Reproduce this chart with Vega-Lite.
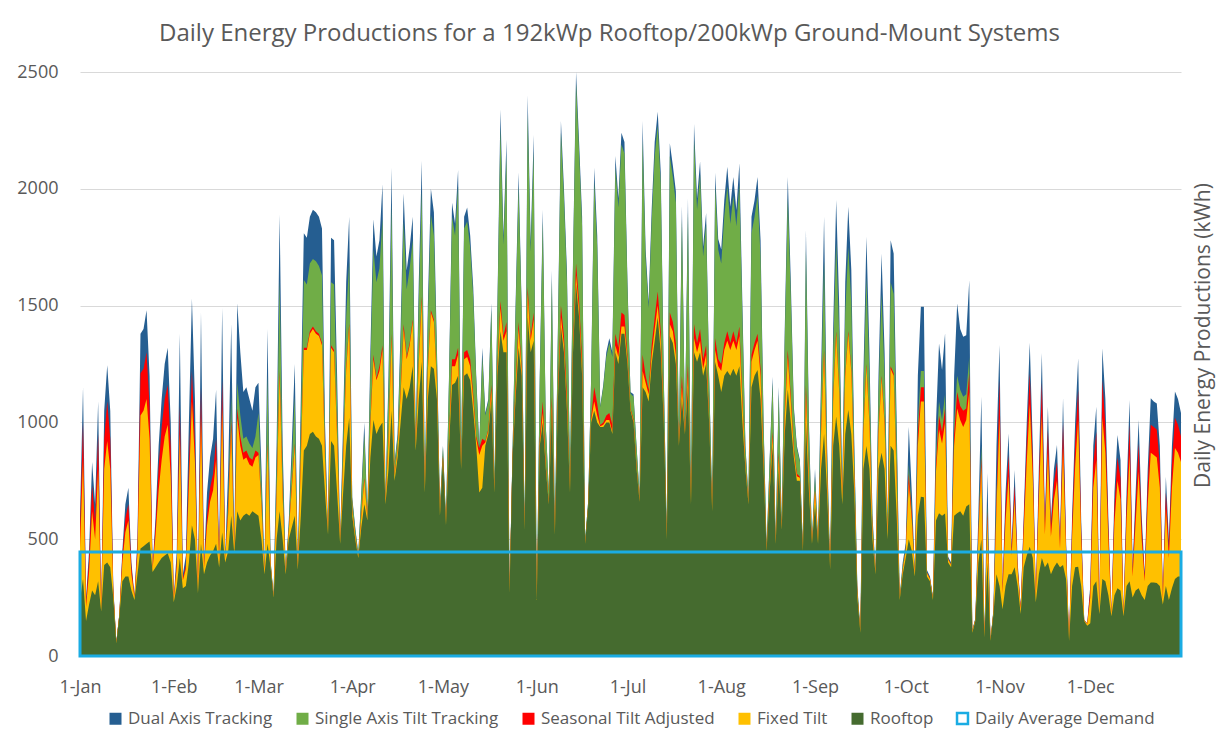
{
"$schema":"https://vega.github.io/schema/vega-lite/v6.json",
"width":1101,"height":584,"autosize":"none",
"padding":{"left":80,"top":72,"right":44,"bottom":78},
"background":"white",
"title":{"text":"Daily Energy Productions for a 192kWp Rooftop/200kWp Ground-Mount Systems","font":"Open Sans","fontSize":24,"fontWeight":"normal","color":"#595959","anchor":"middle","frame":"group","baseline":"alphabetic","offset":10,"dx":-21,"dy":12},
"config":{"view":{"stroke":null},"font":"Open Sans","legend":{"layout":{"bottom":{"anchor":"middle","direction":"horizontal","margin":20}}}},
"data":{"values":[
{"day":"2019-01-01","dual":600,"single":420,"seasonal":540,"fixed":460,"roof":240},
{"day":"2019-01-02","dual":1150,"single":740,"seasonal":1000,"fixed":840,"roof":330},
{"day":"2019-01-03","dual":250,"single":200,"seasonal":230,"fixed":210,"roof":150},
{"day":"2019-01-04","dual":450,"single":340,"seasonal":410,"fixed":360,"roof":220},
{"day":"2019-01-05","dual":830,"single":560,"seasonal":730,"fixed":620,"roof":280},
{"day":"2019-01-06","dual":650,"single":460,"seasonal":580,"fixed":500,"roof":260},
{"day":"2019-01-07","dual":1090,"single":710,"seasonal":950,"fixed":800,"roof":320},
{"day":"2019-01-08","dual":200,"single":195,"seasonal":198,"fixed":196,"roof":190},
{"day":"2019-01-09","dual":1050,"single":720,"seasonal":930,"fixed":800,"roof":390},
{"day":"2019-01-10","dual":1245,"single":820,"seasonal":1090,"fixed":920,"roof":400},
{"day":"2019-01-11","dual":1050,"single":720,"seasonal":930,"fixed":800,"roof":380},
{"day":"2019-01-12","dual":300,"single":280,"seasonal":290,"fixed":280,"roof":250},
{"day":"2019-01-13","dual":60,"single":57,"seasonal":59,"fixed":58,"roof":55},
{"day":"2019-01-14","dual":180,"single":175,"seasonal":178,"fixed":176,"roof":170},
{"day":"2019-01-15","dual":450,"single":390,"seasonal":430,"fixed":400,"roof":320},
{"day":"2019-01-16","dual":650,"single":500,"seasonal":590,"fixed":530,"roof":340},
{"day":"2019-01-17","dual":720,"single":530,"seasonal":650,"fixed":580,"roof":340},
{"day":"2019-01-18","dual":400,"single":340,"seasonal":380,"fixed":350,"roof":280},
{"day":"2019-01-19","dual":260,"single":250,"seasonal":256,"fixed":252,"roof":240},
{"day":"2019-01-20","dual":500,"single":430,"seasonal":470,"fixed":440,"roof":350},
{"day":"2019-01-21","dual":1380,"single":920,"seasonal":1210,"fixed":1030,"roof":460},
{"day":"2019-01-22","dual":1400,"single":940,"seasonal":1230,"fixed":1050,"roof":470},
{"day":"2019-01-23","dual":1480,"single":980,"seasonal":1300,"fixed":1100,"roof":480},
{"day":"2019-01-24","dual":1200,"single":850,"seasonal":1070,"fixed":930,"roof":490},
{"day":"2019-01-25","dual":380,"single":370,"seasonal":376,"fixed":372,"roof":360},
{"day":"2019-01-26","dual":600,"single":490,"seasonal":560,"fixed":520,"roof":380},
{"day":"2019-01-27","dual":900,"single":650,"seasonal":810,"fixed":710,"roof":400},
{"day":"2019-01-28","dual":1100,"single":760,"seasonal":980,"fixed":840,"roof":420},
{"day":"2019-01-29","dual":1250,"single":840,"seasonal":1100,"fixed":940,"roof":430},
{"day":"2019-01-30","dual":1320,"single":880,"seasonal":1160,"fixed":990,"roof":440},
{"day":"2019-01-31","dual":1000,"single":700,"seasonal":890,"fixed":770,"roof":400},
{"day":"2019-02-01","dual":250,"single":240,"seasonal":244,"fixed":241,"roof":230},
{"day":"2019-02-02","dual":450,"single":375,"seasonal":402,"fixed":383,"roof":300},
{"day":"2019-02-03","dual":1380,"single":900,"seasonal":1070,"fixed":950,"roof":420},
{"day":"2019-02-04","dual":350,"single":320,"seasonal":331,"fixed":323,"roof":290},
{"day":"2019-02-05","dual":430,"single":365,"seasonal":388,"fixed":372,"roof":300},
{"day":"2019-02-06","dual":1000,"single":700,"seasonal":810,"fixed":730,"roof":400},
{"day":"2019-02-07","dual":1530,"single":1050,"seasonal":1220,"fixed":1090,"roof":560},
{"day":"2019-02-08","dual":1100,"single":800,"seasonal":910,"fixed":830,"roof":500},
{"day":"2019-02-09","dual":280,"single":275,"seasonal":277,"fixed":275,"roof":270},
{"day":"2019-02-10","dual":1470,"single":980,"seasonal":1150,"fixed":1020,"roof":480},
{"day":"2019-02-11","dual":400,"single":375,"seasonal":384,"fixed":378,"roof":350},
{"day":"2019-02-12","dual":700,"single":550,"seasonal":600,"fixed":560,"roof":400},
{"day":"2019-02-13","dual":850,"single":640,"seasonal":720,"fixed":660,"roof":430},
{"day":"2019-02-14","dual":930,"single":690,"seasonal":780,"fixed":710,"roof":450},
{"day":"2019-02-15","dual":1140,"single":810,"seasonal":930,"fixed":840,"roof":480},
{"day":"2019-02-16","dual":420,"single":400,"seasonal":407,"fixed":402,"roof":380},
{"day":"2019-02-17","dual":1490,"single":1010,"seasonal":1180,"fixed":1060,"roof":530},
{"day":"2019-02-18","dual":430,"single":415,"seasonal":420,"fixed":416,"roof":400},
{"day":"2019-02-19","dual":800,"single":670,"seasonal":630,"fixed":610,"roof":450},
{"day":"2019-02-20","dual":1420,"single":1110,"seasonal":1010,"fixed":970,"roof":600},
{"day":"2019-02-21","dual":470,"single":460,"seasonal":455,"fixed":454,"roof":440},
{"day":"2019-02-22","dual":1510,"single":1170,"seasonal":1060,"fixed":1020,"roof":620},
{"day":"2019-02-23","dual":1300,"single":1030,"seasonal":940,"fixed":900,"roof":580},
{"day":"2019-02-24","dual":1130,"single":930,"seasonal":870,"fixed":840,"roof":600},
{"day":"2019-02-25","dual":1150,"single":940,"seasonal":880,"fixed":850,"roof":610},
{"day":"2019-02-26","dual":1100,"single":910,"seasonal":850,"fixed":820,"roof":600},
{"day":"2019-02-27","dual":1050,"single":890,"seasonal":840,"fixed":810,"roof":620},
{"day":"2019-02-28","dual":1150,"single":940,"seasonal":880,"fixed":850,"roof":610},
{"day":"2019-03-01","dual":1170,"single":1040,"seasonal":870,"fixed":860,"roof":600},
{"day":"2019-03-02","dual":800,"single":730,"seasonal":641,"fixed":638,"roof":500},
{"day":"2019-03-03","dual":380,"single":373,"seasonal":365,"fixed":364,"roof":350},
{"day":"2019-03-04","dual":1400,"single":1200,"seasonal":910,"fixed":900,"roof":480},
{"day":"2019-03-05","dual":410,"single":403,"seasonal":394,"fixed":394,"roof":380},
{"day":"2019-03-06","dual":260,"single":258,"seasonal":255,"fixed":255,"roof":250},
{"day":"2019-03-07","dual":900,"single":810,"seasonal":690,"fixed":680,"roof":500},
{"day":"2019-03-08","dual":1890,"single":1610,"seasonal":1220,"fixed":1200,"roof":620},
{"day":"2019-03-09","dual":900,"single":810,"seasonal":690,"fixed":680,"roof":500},
{"day":"2019-03-10","dual":370,"single":366,"seasonal":360,"fixed":359,"roof":350},
{"day":"2019-03-11","dual":570,"single":555,"seasonal":533,"fixed":532,"roof":500},
{"day":"2019-03-12","dual":900,"single":820,"seasonal":720,"fixed":710,"roof":550},
{"day":"2019-03-13","dual":1250,"single":1110,"seasonal":910,"fixed":900,"roof":600},
{"day":"2019-03-14","dual":380,"single":378,"seasonal":375,"fixed":375,"roof":370},
{"day":"2019-03-15","dual":1100,"single":990,"seasonal":840,"fixed":830,"roof":600},
{"day":"2019-03-16","dual":1810,"single":1610,"seasonal":1320,"fixed":1310,"roof":880},
{"day":"2019-03-17","dual":1790,"single":1590,"seasonal":1320,"fixed":1310,"roof":900},
{"day":"2019-03-18","dual":1880,"single":1680,"seasonal":1390,"fixed":1380,"roof":950},
{"day":"2019-03-19","dual":1910,"single":1700,"seasonal":1410,"fixed":1400,"roof":960},
{"day":"2019-03-20","dual":1900,"single":1690,"seasonal":1390,"fixed":1380,"roof":940},
{"day":"2019-03-21","dual":1880,"single":1670,"seasonal":1380,"fixed":1370,"roof":930},
{"day":"2019-03-22","dual":1830,"single":1630,"seasonal":1340,"fixed":1330,"roof":900},
{"day":"2019-03-23","dual":1000,"single":930,"seasonal":841,"fixed":838,"roof":700},
{"day":"2019-03-24","dual":540,"single":536,"seasonal":529,"fixed":529,"roof":520},
{"day":"2019-03-25","dual":1790,"single":1600,"seasonal":1330,"fixed":1320,"roof":920},
{"day":"2019-03-26","dual":1780,"single":1590,"seasonal":1310,"fixed":1300,"roof":900},
{"day":"2019-03-27","dual":1200,"single":1090,"seasonal":940,"fixed":930,"roof":700},
{"day":"2019-03-28","dual":500,"single":496,"seasonal":490,"fixed":489,"roof":480},
{"day":"2019-03-29","dual":1000,"single":930,"seasonal":841,"fixed":838,"roof":700},
{"day":"2019-03-30","dual":1600,"single":1450,"seasonal":1230,"fixed":1220,"roof":900},
{"day":"2019-03-31","dual":1880,"single":1690,"seasonal":1424,"fixed":1416,"roof":1020},
{"day":"2019-04-01","dual":680,"single":670,"seasonal":626,"fixed":624,"roof":600},
{"day":"2019-04-02","dual":550,"single":543,"seasonal":516,"fixed":515,"roof":500},
{"day":"2019-04-03","dual":440,"single":437,"seasonal":426,"fixed":426,"roof":420},
{"day":"2019-04-04","dual":700,"single":678,"seasonal":598,"fixed":595,"roof":550},
{"day":"2019-04-05","dual":1000,"single":950,"seasonal":762,"fixed":755,"roof":650},
{"day":"2019-04-06","dual":610,"single":606,"seasonal":590,"fixed":589,"roof":580},
{"day":"2019-04-07","dual":1300,"single":1230,"seasonal":994,"fixed":985,"roof":850},
{"day":"2019-04-08","dual":1870,"single":1740,"seasonal":1290,"fixed":1270,"roof":1010},
{"day":"2019-04-09","dual":1710,"single":1600,"seasonal":1190,"fixed":1180,"roof":950},
{"day":"2019-04-10","dual":1780,"single":1660,"seasonal":1240,"fixed":1220,"roof":980},
{"day":"2019-04-11","dual":2020,"single":1870,"seasonal":1330,"fixed":1310,"roof":1000},
{"day":"2019-04-12","dual":680,"single":676,"seasonal":660,"fixed":659,"roof":650},
{"day":"2019-04-13","dual":1200,"single":1140,"seasonal":930,"fixed":920,"roof":800},
{"day":"2019-04-14","dual":2090,"single":1930,"seasonal":1380,"fixed":1360,"roof":1050},
{"day":"2019-04-15","dual":830,"single":820,"seasonal":776,"fixed":774,"roof":750},
{"day":"2019-04-16","dual":950,"single":935,"seasonal":882,"fixed":880,"roof":850},
{"day":"2019-04-17","dual":1400,"single":1340,"seasonal":1130,"fixed":1120,"roof":1000},
{"day":"2019-04-18","dual":1980,"single":1860,"seasonal":1420,"fixed":1400,"roof":1150},
{"day":"2019-04-19","dual":1650,"single":1570,"seasonal":1280,"fixed":1270,"roof":1100},
{"day":"2019-04-20","dual":1750,"single":1660,"seasonal":1340,"fixed":1330,"roof":1150},
{"day":"2019-04-21","dual":1880,"single":1780,"seasonal":1440,"fixed":1430,"roof":1240},
{"day":"2019-04-22","dual":940,"single":931,"seasonal":899,"fixed":898,"roof":880},
{"day":"2019-04-23","dual":1600,"single":1520,"seasonal":1260,"fixed":1250,"roof":1100},
{"day":"2019-04-24","dual":2120,"single":1990,"seasonal":1540,"fixed":1520,"roof":1260},
{"day":"2019-04-25","dual":740,"single":734,"seasonal":713,"fixed":712,"roof":700},
{"day":"2019-04-26","dual":1500,"single":1440,"seasonal":1230,"fixed":1220,"roof":1100},
{"day":"2019-04-27","dual":2000,"single":1890,"seasonal":1480,"fixed":1470,"roof":1240},
{"day":"2019-04-28","dual":1900,"single":1800,"seasonal":1440,"fixed":1430,"roof":1230},
{"day":"2019-04-29","dual":1320,"single":1290,"seasonal":1170,"fixed":1166,"roof":1100},
{"day":"2019-04-30","dual":640,"single":634,"seasonal":613,"fixed":612,"roof":600},
{"day":"2019-05-01","dual":900,"single":896,"seasonal":857,"fixed":855,"roof":850},
{"day":"2019-05-02","dual":590,"single":588,"seasonal":564,"fixed":563,"roof":560},
{"day":"2019-05-03","dual":1200,"single":1180,"seasonal":940,"fixed":930,"roof":900},
{"day":"2019-05-04","dual":1940,"single":1880,"seasonal":1270,"fixed":1240,"roof":1160},
{"day":"2019-05-05","dual":1850,"single":1800,"seasonal":1270,"fixed":1240,"roof":1170},
{"day":"2019-05-06","dual":2080,"single":2010,"seasonal":1320,"fixed":1290,"roof":1200},
{"day":"2019-05-07","dual":850,"single":846,"seasonal":807,"fixed":805,"roof":800},
{"day":"2019-05-08","dual":1880,"single":1830,"seasonal":1300,"fixed":1270,"roof":1200},
{"day":"2019-05-09","dual":1920,"single":1860,"seasonal":1310,"fixed":1280,"roof":1210},
{"day":"2019-05-10","dual":1800,"single":1750,"seasonal":1270,"fixed":1240,"roof":1180},
{"day":"2019-05-11","dual":1580,"single":1540,"seasonal":1120,"fixed":1100,"roof":1050},
{"day":"2019-05-12","dual":1200,"single":1180,"seasonal":940,"fixed":930,"roof":900},
{"day":"2019-05-13","dual":900,"single":880,"seasonal":890,"fixed":860,"roof":700},
{"day":"2019-05-14","dual":1320,"single":1280,"seasonal":930,"fixed":900,"roof":720},
{"day":"2019-05-15","dual":1040,"single":1030,"seasonal":920,"fixed":914,"roof":900},
{"day":"2019-05-16","dual":1100,"single":1090,"seasonal":971,"fixed":965,"roof":950},
{"day":"2019-05-17","dual":1510,"single":1480,"seasonal":1160,"fixed":1140,"roof":1100},
{"day":"2019-05-18","dual":750,"single":746,"seasonal":707,"fixed":705,"roof":700},
{"day":"2019-05-19","dual":1500,"single":1480,"seasonal":1240,"fixed":1230,"roof":1200},
{"day":"2019-05-20","dual":2340,"single":2260,"seasonal":1520,"fixed":1490,"roof":1390},
{"day":"2019-05-21","dual":1800,"single":1760,"seasonal":1370,"fixed":1350,"roof":1300},
{"day":"2019-05-22","dual":2210,"single":2140,"seasonal":1430,"fixed":1390,"roof":1300},
{"day":"2019-05-23","dual":278,"single":277,"seasonal":273,"fixed":272,"roof":270},
{"day":"2019-05-24","dual":880,"single":878,"seasonal":854,"fixed":853,"roof":850},
{"day":"2019-05-25","dual":1500,"single":1470,"seasonal":1160,"fixed":1140,"roof":1100},
{"day":"2019-05-26","dual":2070,"single":2010,"seasonal":1430,"fixed":1400,"roof":1320},
{"day":"2019-05-27","dual":1500,"single":1480,"seasonal":1240,"fixed":1230,"roof":1200},
{"day":"2019-05-28","dual":565,"single":563,"seasonal":544,"fixed":543,"roof":540},
{"day":"2019-05-29","dual":2400,"single":2320,"seasonal":1580,"fixed":1550,"roof":1450},
{"day":"2019-05-30","dual":1770,"single":1730,"seasonal":1370,"fixed":1350,"roof":1300},
{"day":"2019-05-31","dual":2230,"single":2160,"seasonal":1470,"fixed":1440,"roof":1350},
{"day":"2019-06-01","dual":250,"single":249,"seasonal":241,"fixed":241,"roof":240},
{"day":"2019-06-02","dual":1200,"single":1180,"seasonal":930,"fixed":910,"roof":900},
{"day":"2019-06-03","dual":1910,"single":1860,"seasonal":1090,"fixed":1040,"roof":1000},
{"day":"2019-06-04","dual":987,"single":980,"seasonal":820,"fixed":810,"roof":800},
{"day":"2019-06-05","dual":710,"single":706,"seasonal":656,"fixed":652,"roof":650},
{"day":"2019-06-06","dual":1650,"single":1610,"seasonal":1110,"fixed":1070,"roof":1050},
{"day":"2019-06-07","dual":549,"single":547,"seasonal":523,"fixed":521,"roof":520},
{"day":"2019-06-08","dual":1400,"single":1380,"seasonal":1130,"fixed":1110,"roof":1100},
{"day":"2019-06-09","dual":2290,"single":2240,"seasonal":1500,"fixed":1450,"roof":1410},
{"day":"2019-06-10","dual":2000,"single":1960,"seasonal":1370,"fixed":1330,"roof":1300},
{"day":"2019-06-11","dual":1640,"single":1600,"seasonal":1110,"fixed":1070,"roof":1050},
{"day":"2019-06-12","dual":790,"single":785,"seasonal":709,"fixed":704,"roof":700},
{"day":"2019-06-13","dual":1700,"single":1680,"seasonal":1340,"fixed":1320,"roof":1300},
{"day":"2019-06-14","dual":2500,"single":2450,"seasonal":1680,"fixed":1630,"roof":1590},
{"day":"2019-06-15","dual":2200,"single":2160,"seasonal":1520,"fixed":1480,"roof":1450},
{"day":"2019-06-16","dual":1880,"single":1840,"seasonal":1270,"fixed":1230,"roof":1200},
{"day":"2019-06-17","dual":500,"single":499,"seasonal":482,"fixed":481,"roof":480},
{"day":"2019-06-18","dual":660,"single":659,"seasonal":642,"fixed":641,"roof":640},
{"day":"2019-06-19","dual":1200,"single":1190,"seasonal":1020,"fixed":1010,"roof":1000},
{"day":"2019-06-20","dual":2090,"single":2030,"seasonal":1150,"fixed":1090,"roof":1050},
{"day":"2019-06-21","dual":1800,"single":1750,"seasonal":1080,"fixed":1030,"roof":1000},
{"day":"2019-06-22","dual":1070,"single":1065,"seasonal":989,"fixed":984,"roof":980},
{"day":"2019-06-23","dual":1160,"single":1150,"seasonal":1000,"fixed":990,"roof":980},
{"day":"2019-06-24","dual":1300,"single":1280,"seasonal":1030,"fixed":1010,"roof":1000},
{"day":"2019-06-25","dual":1360,"single":1340,"seasonal":1040,"fixed":1010,"roof":1000},
{"day":"2019-06-26","dual":1300,"single":1280,"seasonal":990,"fixed":960,"roof":950},
{"day":"2019-06-27","dual":2140,"single":2090,"seasonal":1380,"fixed":1330,"roof":1300},
{"day":"2019-06-28","dual":1960,"single":1920,"seasonal":1320,"fixed":1280,"roof":1250},
{"day":"2019-06-29","dual":2240,"single":2190,"seasonal":1470,"fixed":1410,"roof":1380},
{"day":"2019-06-30","dual":2200,"single":2150,"seasonal":1460,"fixed":1410,"roof":1380},
{"day":"2019-07-01","dual":1600,"single":1580,"seasonal":1290,"fixed":1270,"roof":1250},
{"day":"2019-07-02","dual":1130,"single":1124,"seasonal":1060,"fixed":1055,"roof":1050},
{"day":"2019-07-03","dual":1120,"single":1110,"seasonal":1014,"fixed":1007,"roof":1000},
{"day":"2019-07-04","dual":900,"single":893,"seasonal":812,"fixed":806,"roof":800},
{"day":"2019-07-05","dual":690,"single":688,"seasonal":664,"fixed":662,"roof":660},
{"day":"2019-07-06","dual":2290,"single":2210,"seasonal":1290,"fixed":1220,"roof":1150},
{"day":"2019-07-07","dual":1740,"single":1700,"seasonal":1200,"fixed":1170,"roof":1130},
{"day":"2019-07-08","dual":1515,"single":1490,"seasonal":1140,"fixed":1120,"roof":1090},
{"day":"2019-07-09","dual":1910,"single":1860,"seasonal":1330,"fixed":1290,"roof":1250},
{"day":"2019-07-10","dual":2200,"single":2140,"seasonal":1450,"fixed":1400,"roof":1350},
{"day":"2019-07-11","dual":2330,"single":2270,"seasonal":1560,"fixed":1500,"roof":1450},
{"day":"2019-07-12","dual":2070,"single":2020,"seasonal":1390,"fixed":1350,"roof":1300},
{"day":"2019-07-13","dual":1200,"single":1190,"seasonal":1020,"fixed":1010,"roof":1000},
{"day":"2019-07-14","dual":530,"single":528,"seasonal":504,"fixed":502,"roof":500},
{"day":"2019-07-15","dual":2195,"single":2140,"seasonal":1470,"fixed":1420,"roof":1370},
{"day":"2019-07-16","dual":2100,"single":2050,"seasonal":1430,"fixed":1390,"roof":1340},
{"day":"2019-07-17","dual":1990,"single":1940,"seasonal":1340,"fixed":1290,"roof":1250},
{"day":"2019-07-18","dual":929,"single":927,"seasonal":903,"fixed":902,"roof":900},
{"day":"2019-07-19","dual":1926,"single":1870,"seasonal":1200,"fixed":1150,"roof":1100},
{"day":"2019-07-20","dual":993,"single":990,"seasonal":955,"fixed":953,"roof":950},
{"day":"2019-07-21","dual":1958,"single":1900,"seasonal":1250,"fixed":1200,"roof":1150},
{"day":"2019-07-22","dual":674,"single":672,"seasonal":653,"fixed":651,"roof":650},
{"day":"2019-07-23","dual":2277,"single":2210,"seasonal":1420,"fixed":1360,"roof":1300},
{"day":"2019-07-24","dual":1958,"single":1910,"seasonal":1340,"fixed":1300,"roof":1260},
{"day":"2019-07-25","dual":2117,"single":2060,"seasonal":1400,"fixed":1350,"roof":1300},
{"day":"2019-07-26","dual":1752,"single":1710,"seasonal":1270,"fixed":1230,"roof":1200},
{"day":"2019-07-27","dual":1896,"single":1850,"seasonal":1330,"fixed":1290,"roof":1250},
{"day":"2019-07-28","dual":1200,"single":1190,"seasonal":1020,"fixed":1010,"roof":1000},
{"day":"2019-07-29","dual":659,"single":656,"seasonal":625,"fixed":622,"roof":620},
{"day":"2019-07-30","dual":2069,"single":2010,"seasonal":1360,"fixed":1310,"roof":1260},
{"day":"2019-07-31","dual":1785,"single":1740,"seasonal":1270,"fixed":1240,"roof":1200},
{"day":"2019-08-01","dual":1740,"single":1680,"seasonal":1250,"fixed":1220,"roof":1130},
{"day":"2019-08-02","dual":1950,"single":1880,"seasonal":1340,"fixed":1310,"roof":1200},
{"day":"2019-08-03","dual":2094,"single":2010,"seasonal":1390,"fixed":1350,"roof":1220},
{"day":"2019-08-04","dual":1923,"single":1850,"seasonal":1340,"fixed":1310,"roof":1200},
{"day":"2019-08-05","dual":2051,"single":1970,"seasonal":1390,"fixed":1350,"roof":1230},
{"day":"2019-08-06","dual":1909,"single":1840,"seasonal":1340,"fixed":1310,"roof":1200},
{"day":"2019-08-07","dual":2109,"single":2020,"seasonal":1410,"fixed":1370,"roof":1240},
{"day":"2019-08-08","dual":1500,"single":1450,"seasonal":1100,"fixed":1080,"roof":1000},
{"day":"2019-08-09","dual":900,"single":890,"seasonal":819,"fixed":815,"roof":800},
{"day":"2019-08-10","dual":682,"single":679,"seasonal":656,"fixed":655,"roof":650},
{"day":"2019-08-11","dual":1880,"single":1810,"seasonal":1290,"fixed":1260,"roof":1150},
{"day":"2019-08-12","dual":1950,"single":1880,"seasonal":1340,"fixed":1310,"roof":1200},
{"day":"2019-08-13","dual":2051,"single":1970,"seasonal":1380,"fixed":1350,"roof":1224},
{"day":"2019-08-14","dual":1780,"single":1710,"seasonal":1230,"fixed":1200,"roof":1100},
{"day":"2019-08-15","dual":1000,"single":980,"seasonal":840,"fixed":830,"roof":800},
{"day":"2019-08-16","dual":470,"single":468,"seasonal":454,"fixed":453,"roof":450},
{"day":"2019-08-17","dual":843,"single":830,"seasonal":730,"fixed":720,"roof":700},
{"day":"2019-08-18","dual":1195,"single":1170,"seasonal":960,"fixed":940,"roof":900},
{"day":"2019-08-19","dual":497,"single":495,"seasonal":484,"fixed":483,"roof":480},
{"day":"2019-08-20","dual":1152,"single":1120,"seasonal":870,"fixed":850,"roof":800},
{"day":"2019-08-21","dual":569,"single":566,"seasonal":546,"fixed":544,"roof":540},
{"day":"2019-08-22","dual":1400,"single":1360,"seasonal":1040,"fixed":1020,"roof":950},
{"day":"2019-08-23","dual":2051,"single":1960,"seasonal":1310,"fixed":1280,"roof":1141},
{"day":"2019-08-24","dual":1600,"single":1540,"seasonal":1110,"fixed":1090,"roof":1000},
{"day":"2019-08-25","dual":1067,"single":1050,"seasonal":890,"fixed":880,"roof":850},
{"day":"2019-08-26","dual":900,"single":890,"seasonal":780,"fixed":770,"roof":750},
{"day":"2019-08-27","dual":839,"single":830,"seasonal":767,"fixed":763,"roof":750},
{"day":"2019-08-28","dual":468,"single":466,"seasonal":454,"fixed":453,"roof":450},
{"day":"2019-08-29","dual":1823,"single":1740,"seasonal":1160,"fixed":1120,"roof":1000},
{"day":"2019-08-30","dual":1000,"single":970,"seasonal":760,"fixed":750,"roof":700},
{"day":"2019-08-31","dual":497,"single":495,"seasonal":484,"fixed":483,"roof":480},
{"day":"2019-09-01","dual":800,"single":770,"seasonal":709,"fixed":707,"roof":650},
{"day":"2019-09-02","dual":500,"single":496,"seasonal":488,"fixed":488,"roof":480},
{"day":"2019-09-03","dual":1200,"single":1120,"seasonal":960,"fixed":950,"roof":800},
{"day":"2019-09-04","dual":1880,"single":1690,"seasonal":1310,"fixed":1300,"roof":950},
{"day":"2019-09-05","dual":900,"single":860,"seasonal":780,"fixed":776,"roof":700},
{"day":"2019-09-06","dual":382,"single":380,"seasonal":375,"fixed":375,"roof":370},
{"day":"2019-09-07","dual":1400,"single":1300,"seasonal":1100,"fixed":1090,"roof":900},
{"day":"2019-09-08","dual":1952,"single":1770,"seasonal":1390,"fixed":1380,"roof":1025},
{"day":"2019-09-09","dual":1500,"single":1380,"seasonal":1134,"fixed":1128,"roof":900},
{"day":"2019-09-10","dual":725,"single":710,"seasonal":680,"fixed":679,"roof":650},
{"day":"2019-09-11","dual":1600,"single":1470,"seasonal":1204,"fixed":1197,"roof":950},
{"day":"2019-09-12","dual":1923,"single":1750,"seasonal":1390,"fixed":1380,"roof":1053},
{"day":"2019-09-13","dual":1652,"single":1510,"seasonal":1224,"fixed":1217,"roof":950},
{"day":"2019-09-14","dual":900,"single":860,"seasonal":780,"fixed":776,"roof":700},
{"day":"2019-09-15","dual":300,"single":290,"seasonal":270,"fixed":269,"roof":250},
{"day":"2019-09-16","dual":111,"single":109,"seasonal":104,"fixed":104,"roof":100},
{"day":"2019-09-17","dual":1200,"single":1120,"seasonal":960,"fixed":950,"roof":800},
{"day":"2019-09-18","dual":1795,"single":1620,"seasonal":1250,"fixed":1240,"roof":899},
{"day":"2019-09-19","dual":1300,"single":1200,"seasonal":1000,"fixed":990,"roof":800},
{"day":"2019-09-20","dual":600,"single":580,"seasonal":540,"fixed":538,"roof":500},
{"day":"2019-09-21","dual":368,"single":364,"seasonal":357,"fixed":357,"roof":350},
{"day":"2019-09-22","dual":1200,"single":1120,"seasonal":960,"fixed":950,"roof":800},
{"day":"2019-09-23","dual":1723,"single":1550,"seasonal":1200,"fixed":1190,"roof":870},
{"day":"2019-09-24","dual":1300,"single":1200,"seasonal":1000,"fixed":990,"roof":800},
{"day":"2019-09-25","dual":569,"single":555,"seasonal":527,"fixed":526,"roof":500},
{"day":"2019-09-26","dual":1780,"single":1600,"seasonal":1240,"fixed":1230,"roof":900},
{"day":"2019-09-27","dual":1723,"single":1550,"seasonal":1210,"fixed":1200,"roof":880},
{"day":"2019-09-28","dual":1000,"single":920,"seasonal":756,"fixed":752,"roof":600},
{"day":"2019-09-29","dual":254,"single":251,"seasonal":245,"fixed":245,"roof":240},
{"day":"2019-09-30","dual":400,"single":390,"seasonal":370,"fixed":369,"roof":350},
{"day":"2019-10-01","dual":484,"single":462,"seasonal":457,"fixed":452,"roof":420},
{"day":"2019-10-02","dual":981,"single":820,"seasonal":780,"fixed":740,"roof":500},
{"day":"2019-10-03","dual":700,"single":620,"seasonal":600,"fixed":580,"roof":450},
{"day":"2019-10-04","dual":368,"single":358,"seasonal":356,"fixed":354,"roof":340},
{"day":"2019-10-05","dual":1200,"single":1000,"seasonal":950,"fixed":900,"roof":600},
{"day":"2019-10-06","dual":1495,"single":1220,"seasonal":1150,"fixed":1090,"roof":682},
{"day":"2019-10-07","dual":1495,"single":1220,"seasonal":1150,"fixed":1090,"roof":680},
{"day":"2019-10-08","dual":368,"single":358,"seasonal":356,"fixed":354,"roof":340},
{"day":"2019-10-09","dual":340,"single":333,"seasonal":332,"fixed":330,"roof":320},
{"day":"2019-10-10","dual":255,"single":250,"seasonal":249,"fixed":248,"roof":240},
{"day":"2019-10-11","dual":1000,"single":860,"seasonal":820,"fixed":790,"roof":580},
{"day":"2019-10-12","dual":1338,"single":1090,"seasonal":1030,"fixed":970,"roof":611},
{"day":"2019-10-13","dual":1224,"single":1010,"seasonal":960,"fixed":910,"roof":600},
{"day":"2019-10-14","dual":1382,"single":1120,"seasonal":1060,"fixed":1000,"roof":610},
{"day":"2019-10-15","dual":425,"single":417,"seasonal":415,"fixed":413,"roof":400},
{"day":"2019-10-16","dual":400,"single":393,"seasonal":392,"fixed":390,"roof":380},
{"day":"2019-10-17","dual":1200,"single":1000,"seasonal":950,"fixed":900,"roof":600},
{"day":"2019-10-18","dual":1509,"single":1200,"seasonal":1130,"fixed":1060,"roof":611},
{"day":"2019-10-19","dual":1400,"single":1140,"seasonal":1070,"fixed":1010,"roof":620},
{"day":"2019-10-20","dual":1367,"single":1110,"seasonal":1050,"fixed":980,"roof":600},
{"day":"2019-10-21","dual":1373,"single":1120,"seasonal":1060,"fixed":1010,"roof":640},
{"day":"2019-10-22","dual":1609,"single":1280,"seasonal":1210,"fixed":1130,"roof":650},
{"day":"2019-10-23","dual":111,"single":107,"seasonal":106,"fixed":106,"roof":100},
{"day":"2019-10-24","dual":160,"single":157,"seasonal":156,"fixed":155,"roof":150},
{"day":"2019-10-25","dual":600,"single":530,"seasonal":520,"fixed":500,"roof":400},
{"day":"2019-10-26","dual":1110,"single":900,"seasonal":850,"fixed":810,"roof":500},
{"day":"2019-10-27","dual":83,"single":82,"seasonal":82,"fixed":82,"roof":80},
{"day":"2019-10-28","dual":783,"single":650,"seasonal":620,"fixed":590,"roof":400},
{"day":"2019-10-29","dual":68,"single":67,"seasonal":67,"fixed":67,"roof":65},
{"day":"2019-10-30","dual":200,"single":193,"seasonal":192,"fixed":190,"roof":180},
{"day":"2019-10-31","dual":900,"single":710,"seasonal":670,"fixed":630,"roof":350},
{"day":"2019-11-01","dual":1331,"single":870,"seasonal":1180,"fixed":1020,"roof":300},
{"day":"2019-11-02","dual":297,"single":250,"seasonal":280,"fixed":270,"roof":200},
{"day":"2019-11-03","dual":700,"single":520,"seasonal":640,"fixed":580,"roof":300},
{"day":"2019-11-04","dual":953,"single":680,"seasonal":860,"fixed":770,"roof":350},
{"day":"2019-11-05","dual":468,"single":420,"seasonal":450,"fixed":430,"roof":350},
{"day":"2019-11-06","dual":796,"single":610,"seasonal":730,"fixed":670,"roof":380},
{"day":"2019-11-07","dual":400,"single":360,"seasonal":380,"fixed":370,"roof":300},
{"day":"2019-11-08","dual":211,"single":200,"seasonal":210,"fixed":200,"roof":180},
{"day":"2019-11-09","dual":600,"single":500,"seasonal":570,"fixed":530,"roof":380},
{"day":"2019-11-10","dual":1000,"single":740,"seasonal":920,"fixed":830,"roof":430},
{"day":"2019-11-11","dual":1341,"single":950,"seasonal":1210,"fixed":1080,"roof":468},
{"day":"2019-11-12","dual":900,"single":680,"seasonal":830,"fixed":760,"roof":420},
{"day":"2019-11-13","dual":254,"single":240,"seasonal":250,"fixed":247,"roof":230},
{"day":"2019-11-14","dual":800,"single":600,"seasonal":730,"fixed":670,"roof":350},
{"day":"2019-11-15","dual":1297,"single":900,"seasonal":1170,"fixed":1030,"roof":420},
{"day":"2019-11-16","dual":582,"single":490,"seasonal":550,"fixed":520,"roof":380},
{"day":"2019-11-17","dual":1067,"single":770,"seasonal":970,"fixed":870,"roof":400},
{"day":"2019-11-18","dual":582,"single":480,"seasonal":550,"fixed":510,"roof":350},
{"day":"2019-11-19","dual":800,"single":610,"seasonal":740,"fixed":670,"roof":380},
{"day":"2019-11-20","dual":903,"single":680,"seasonal":830,"fixed":750,"roof":400},
{"day":"2019-11-21","dual":500,"single":450,"seasonal":480,"fixed":460,"roof":380},
{"day":"2019-11-22","dual":1104,"single":780,"seasonal":1000,"fixed":890,"roof":390},
{"day":"2019-11-23","dual":500,"single":420,"seasonal":470,"fixed":450,"roof":330},
{"day":"2019-11-24","dual":68,"single":66,"seasonal":68,"fixed":67,"roof":65},
{"day":"2019-11-25","dual":600,"single":470,"seasonal":560,"fixed":510,"roof":300},
{"day":"2019-11-26","dual":1000,"single":720,"seasonal":910,"fixed":810,"roof":380},
{"day":"2019-11-27","dual":1275,"single":870,"seasonal":1140,"fixed":1010,"roof":382},
{"day":"2019-11-28","dual":582,"single":460,"seasonal":540,"fixed":500,"roof":300},
{"day":"2019-11-29","dual":154,"single":152,"seasonal":153,"fixed":153,"roof":150},
{"day":"2019-11-30","dual":140,"single":135,"seasonal":139,"fixed":137,"roof":130},
{"day":"2019-12-01","dual":300,"single":230,"seasonal":280,"fixed":250,"roof":140},
{"day":"2019-12-02","dual":900,"single":630,"seasonal":820,"fixed":720,"roof":300},
{"day":"2019-12-03","dual":1067,"single":730,"seasonal":960,"fixed":840,"roof":320},
{"day":"2019-12-04","dual":197,"single":190,"seasonal":195,"fixed":192,"roof":180},
{"day":"2019-12-05","dual":1317,"single":870,"seasonal":1180,"fixed":1020,"roof":330},
{"day":"2019-12-06","dual":1100,"single":750,"seasonal":990,"fixed":870,"roof":320},
{"day":"2019-12-07","dual":582,"single":440,"seasonal":540,"fixed":490,"roof":260},
{"day":"2019-12-08","dual":183,"single":177,"seasonal":181,"fixed":179,"roof":170},
{"day":"2019-12-09","dual":700,"single":500,"seasonal":640,"fixed":570,"roof":260},
{"day":"2019-12-10","dual":946,"single":650,"seasonal":850,"fixed":750,"roof":290},
{"day":"2019-12-11","dual":839,"single":590,"seasonal":760,"fixed":670,"roof":280},
{"day":"2019-12-12","dual":183,"single":177,"seasonal":181,"fixed":179,"roof":170},
{"day":"2019-12-13","dual":700,"single":520,"seasonal":640,"fixed":580,"roof":300},
{"day":"2019-12-14","dual":1096,"single":750,"seasonal":990,"fixed":860,"roof":320},
{"day":"2019-12-15","dual":382,"single":320,"seasonal":360,"fixed":340,"roof":250},
{"day":"2019-12-16","dual":700,"single":510,"seasonal":640,"fixed":570,"roof":280},
{"day":"2019-12-17","dual":1010,"single":690,"seasonal":910,"fixed":790,"roof":290},
{"day":"2019-12-18","dual":600,"single":450,"seasonal":550,"fixed":500,"roof":260},
{"day":"2019-12-19","dual":353,"single":300,"seasonal":340,"fixed":320,"roof":240},
{"day":"2019-12-20","dual":800,"single":580,"seasonal":730,"fixed":650,"roof":300},
{"day":"2019-12-21","dual":1103,"single":750,"seasonal":990,"fixed":870,"roof":315},
{"day":"2019-12-22","dual":1090,"single":740,"seasonal":980,"fixed":860,"roof":315},
{"day":"2019-12-23","dual":1081,"single":740,"seasonal":970,"fixed":850,"roof":312},
{"day":"2019-12-24","dual":900,"single":630,"seasonal":820,"fixed":720,"roof":300},
{"day":"2019-12-25","dual":254,"single":240,"seasonal":250,"fixed":244,"roof":220},
{"day":"2019-12-26","dual":767,"single":560,"seasonal":700,"fixed":630,"roof":300},
{"day":"2019-12-27","dual":496,"single":380,"seasonal":460,"fixed":420,"roof":240},
{"day":"2019-12-28","dual":900,"single":630,"seasonal":820,"fixed":720,"roof":290},
{"day":"2019-12-29","dual":1132,"single":770,"seasonal":1020,"fixed":890,"roof":330},
{"day":"2019-12-30","dual":1100,"single":760,"seasonal":990,"fixed":870,"roof":340},
{"day":"2019-12-31","dual":1040,"single":730,"seasonal":940,"fixed":830,"roof":340}
]},
"layer":[
{"mark":{"type":"area","interpolate":"linear"},
 "encoding":{
  "x":{"field":"day","type":"temporal","title":null,
   "scale":{"type":"utc","domain":[{"year":2019,"month":1,"date":1,"utc":true},{"year":2019,"month":12,"date":31,"utc":true}]},
   "axis":{"format":"%-d-%b","tickCount":{"interval":"month","step":1},"labelFlush":false,"labelOverlap":false,"labelAlign":"center","labelFontSize":18,"labelColor":"#595959","labelFont":"Open Sans","labelPadding":22,"ticks":false,"grid":false,"domainColor":"#BFBFBF"}},
  "y":{"field":"dual","type":"quantitative","title":"Daily Energy Productions (kWh)",
   "scale":{"domain":[0,2500],"nice":false},
   "axis":{"values":[0,500,1000,1500,2000,2500],"format":"d","titleX":1123,"titleY":263,"titleAngle":270,"titleAlign":"center","titleBaseline":"middle","titleFontSize":21,"titleFontWeight":"normal","titleColor":"#595959","titleFont":"Open Sans","labelFontSize":18,"labelColor":"#595959","labelFont":"Open Sans","labelPadding":22,"ticks":false,"domain":false,"gridColor":"#D9D9D9","gridWidth":1.2}},
  "fill":{"datum":"Dual Axis Tracking","type":"nominal",
   "scale":{"domain":["Dual Axis Tracking","Single Axis Tilt Tracking","Seasonal Tilt Adjusted","Fixed Tilt","Rooftop"],"range":["#255E91","#70AD47","#FF0000","#FFC000","#456B2F"]},
   "legend":{"orient":"bottom","direction":"horizontal","title":null,"symbolType":"square","symbolSize":144,"symbolStrokeWidth":0,"labelFontSize":17,"labelLimit":0,"labelColor":"#595959","labelFont":"Open Sans","columnPadding":21,"labelOffset":4,"offset":14}}}},
{"mark":{"type":"area","interpolate":"linear"},
 "encoding":{"x":{"field":"day","type":"temporal","title":null},"y":{"field":"single","type":"quantitative","title":"Daily Energy Productions (kWh)"},"fill":{"datum":"Single Axis Tilt Tracking","type":"nominal"}}},
{"mark":{"type":"area","interpolate":"linear"},
 "encoding":{"x":{"field":"day","type":"temporal","title":null},"y":{"field":"seasonal","type":"quantitative","title":"Daily Energy Productions (kWh)"},"fill":{"datum":"Seasonal Tilt Adjusted","type":"nominal"}}},
{"mark":{"type":"area","interpolate":"linear"},
 "encoding":{"x":{"field":"day","type":"temporal","title":null},"y":{"field":"fixed","type":"quantitative","title":"Daily Energy Productions (kWh)"},"fill":{"datum":"Fixed Tilt","type":"nominal"}}},
{"mark":{"type":"area","interpolate":"linear"},
 "encoding":{"x":{"field":"day","type":"temporal","title":null},"y":{"field":"roof","type":"quantitative","title":"Daily Energy Productions (kWh)"},"fill":{"datum":"Rooftop","type":"nominal"}}},
{"data":{"values":[{"start":"2019-01-01","end":"2019-12-31","demand":445,"base":0,"series":"Daily Average Demand"}]},
 "mark":{"type":"rect","filled":false,"strokeWidth":3},
 "encoding":{"x":{"field":"start","type":"temporal","title":null},"x2":{"field":"end"},"y":{"field":"demand","type":"quantitative","title":"Daily Energy Productions (kWh)"},"y2":{"field":"base"},
  "stroke":{"field":"series","type":"nominal","scale":{"range":["#1AACE3"]},
   "legend":{"orient":"bottom","direction":"horizontal","title":null,"symbolType":"square","symbolSize":120,"symbolStrokeWidth":2.5,"labelFontSize":17,"labelLimit":0,"labelColor":"#595959","labelFont":"Open Sans","labelOffset":4,"offset":14}}}}
]
}
